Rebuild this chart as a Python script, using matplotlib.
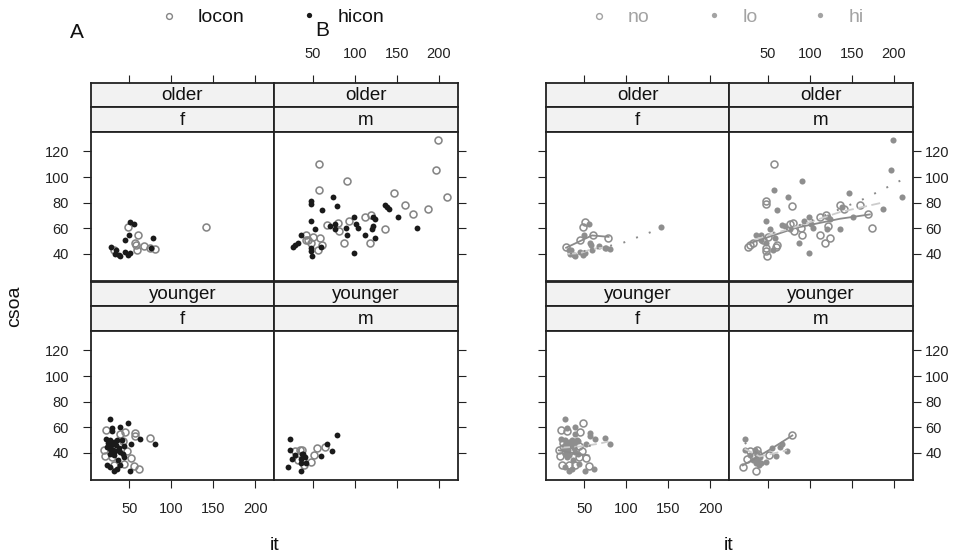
import matplotlib
matplotlib.use("Agg")
import matplotlib.pyplot as plt

plt.rcParams['font.family'] = ['Liberation Sans', 'DejaVu Sans']

# ---------------- data ----------------
# codes: target 'l' = locon, 'h' = hicon ; tint 'n' = no, 'l' = lo, 'h' = hi
older_f_it = [50.4, 56.0, 49.2, 44.4, 78.2, 28.2, 34.5, 37.3, 33.3, 39.3, 45.2, 48.0, 50.4, 76.2,
              48.0, 59.9, 57.1, 58.0, 59.2, 67.9, 74.2, 80.1, 141.7, 32.1]
older_f_csoa = [64.8, 63.0, 54.4, 51.2, 52.3, 45.3, 42.9, 38.8, 39.6, 38.2, 41.4, 38.8, 40.3, 44.2,
                60.9, 54.4, 48.7, 46.8, 42.9, 46.0, 44.8, 44.0, 60.9, 42.9]
older_f_target = "hhhhhhhhhhhhhh" + "llllllllll"
older_f_tint = "nllnnnllhlhllhnnlhllhhhl"

older_m_it = [199.2, 196.4, 209.1, 57.1, 91.3, 57.1, 146.4, 159.5, 168.6, 187.2, 112.7, 119.8, 92.8,
              80.1, 67.5, 81.3, 135.7, 86.9, 117.8, 42.5, 50.4, 59.1, 44.4, 47.6, 61.5, 56.3, 42.5,
              47.6, 47.6, 74.6, 61.5, 78.6, 47.6, 52.4, 36.5, 32.5, 29.4, 26.6, 47.6, 47.6, 49.2,
              60.4, 70.2, 76.2, 76.2, 89.3, 91.3, 98.8, 102.0, 103.9, 99.2, 112.7, 121.8, 123.8,
              121.8, 120.6, 123.8, 135.7, 138.4, 140.4, 151.5, 174.1]
older_m_csoa = [128.9, 105.9, 84.3, 110.4, 96.8, 89.5, 87.7, 78.0, 70.8, 75.2, 68.7, 70.0, 65.6,
                64.3, 62.4, 57.7, 59.6, 48.1, 48.1, 54.4, 53.3, 52.6, 51.2, 48.7, 47.3, 42.9, 50.7,
                81.2, 78.6, 84.3, 73.9, 77.0, 65.6, 59.6, 54.4, 48.1, 46.8, 45.5, 44.8, 42.1, 38.2,
                45.2, 61.6, 63.5, 59.1, 60.4, 54.4, 69.0, 63.0, 60.4, 40.9, 54.4, 68.7, 66.9,
                61.6, 59.1, 52.6, 78.0, 76.8, 74.7, 69.0, 60.4]
older_m_target = "l" * 27 + "h" * 35
older_m_tint = ("hhhnlllnnlnnlnlnllnlnlnlnlh"
                + "nnhln" + "lllnn" + "nnnnn" + "lnlnn" + "hllln" + "lhnln" + "nhnln")

younger_f_it = [26.6, 48.0, 38.5, 29.4, 29.4, 22.6, 27.4, 31.3, 35.4, 41.3, 43.2, 23.5, 26.6, 30.6,
                33.3, 37.3, 39.3, 27.4, 31.3, 43.2, 62.3, 52.0, 80.1, 23.5, 27.4, 31.3, 35.4, 39.3,
                51.2, 42.5, 28.5, 34.0, 36.0, 25.0,
                22.6, 38.5, 45.2, 57.1, 57.1, 75.0, 42.5, 19.4, 21.4, 29.4, 47.3, 52.0, 43.2, 55.1,
                61.1, 31.3, 37.3, 27.4]
younger_f_csoa = [66.3, 63.2, 60.1, 59.3, 56.7, 51.0, 49.7, 48.4, 49.7, 49.7, 45.0, 44.5, 43.2, 42.4,
                  41.3, 44.0, 40.6, 39.3, 38.0, 36.7, 51.0, 46.6, 46.6, 30.2, 28.8, 26.2, 27.6, 30.2,
                  26.2, 39.3, 46.5, 45.8, 34.5, 47.5,
                  57.5, 54.9, 56.2, 55.4, 52.8, 51.8, 48.9, 42.4, 37.2, 36.7, 41.3, 36.2, 31.5, 29.4,
                  27.6, 30.2, 47.1, 45.8]
younger_f_target = "h" * 34 + "l" * 18
younger_f_tint = "lnllnlhlhlnlhlnhlhlnlhlnlhlnlhlhln" + "nlnlhhlnnhnnlnlnhl"

younger_m_it = [23.5, 23.5, 20.6, 25.4, 29.4, 36.5, 38.5, 40.5, 35.7, 42.5, 36.5, 60.4, 67.5, 73.0,
                78.6, 36.9,
                29.4, 34.5, 37.3, 32.5, 39.6, 48.4, 51.6, 55.6, 65.1, 38.5]
younger_m_csoa = [51.0, 42.4, 28.8, 35.4, 38.0, 35.4, 39.3, 36.7, 32.0, 32.0, 26.2, 37.2, 46.6, 41.3,
                  53.8, 38.8,
                  41.3, 42.4, 42.4, 34.1, 30.2, 32.7, 38.5, 43.7, 44.5, 35.4]
younger_m_target = "h" * 16 + "l" * 10
younger_m_tint = "lhnnlhnllhnllhnl" + "nlnhllnlhl"

# smooth curves of panel B (it, csoa vertices)
smooth_older_f = {"n": ([28.2, 45.0, 59.1, 78.9], [44.8, 50.0, 54.4, 53.3]),
                  "l": ([30.0, 45.0, 60.0, 76.0], [40.0, 40.5, 44.0, 45.0]),
                  "h": ([33.0, 67.0, 94.0, 128.9, 141.7], [40.0, 44.5, 48.1, 56.9, 60.9])}
smooth_older_m = {"n": ([30.6, 84.1, 135.7, 171.4], [48.7, 60.4, 67.4, 70.8]),
                  "l": ([34.5, 84.1, 135.7, 185.3], [51.2, 61.2, 72.6, 79.9]),
                  "h": ([40.5, 80.0, 123.8, 162.7, 185.3, 207.9], [53.8, 60.5, 71.6, 82.5, 89.8, 97.3])}
smooth_younger_f = {"n": ([19.4, 35.0, 55.0], [42.0, 40.0, 38.0]),
                    "l": ([22.0, 45.0, 67.0, 78.9], [44.0, 45.0, 47.1, 48.9]),
                    "h": ([23.0, 40.0, 62.0], [45.0, 44.0, 46.0])}
smooth_younger_m = {"n": ([20.6, 34.5, 56.3, 79.4], [30.2, 35.4, 44.0, 53.6]),
                    "l": ([22.6, 40.5, 60.0, 73.0], [43.2, 37.2, 40.0, 42.0]),
                    "h": ([23.0, 40.0, 67.0], [48.0, 38.0, 45.0])}

panels = {("older", "f"): (older_f_it, older_f_csoa, older_f_target, older_f_tint, smooth_older_f),
          ("older", "m"): (older_m_it, older_m_csoa, older_m_target, older_m_tint, smooth_older_m),
          ("younger", "f"): (younger_f_it, younger_f_csoa, younger_f_target, younger_f_tint, smooth_younger_f),
          ("younger", "m"): (younger_m_it, younger_m_csoa, younger_m_target, younger_m_tint, smooth_younger_m)}

agegp_levels = ["older", "younger"]
sex_levels = ["f", "m"]
x_ticks = [50, 100, 150, 200]
y_ticks = [40, 60, 80, 100, 120]

# ---------------- figure ----------------
W, H = 966, 557
fig = plt.figure(figsize=(W / 100, H / 100), dpi=100)

def px_axes(x0, y0, x1, y1):
    return fig.add_axes([x0 / W, 1 - y1 / H, (x1 - x0) / W, (y1 - y0) / H])

def fx(x):
    return x / W

def fy(y):
    return 1 - y / H

XLIM = (4.2, 222.6)
YLIM = (18.8, 135.2)
EDGE = "#222222"
STRIP = "#f2f2f2"
GRAY_A = "#858585"
BLACK = "#1a1a1a"
GRAY_B = "#8e8e8e"
TL = 5.8   # tick length (pt)
TP = 10.0  # tick pad (pt)
TFS = 10.5

def style_spines(ax):
    for s in ax.spines.values():
        s.set_color(EDGE)
        s.set_linewidth(1.3)

def draw_part(cols, part):
    for r, age in enumerate(agegp_levels):
        for c, sex in enumerate(sex_levels):
            cx0, cx1 = cols[c]
            off = 199 * r
            # strips
            s1 = px_axes(cx0, 83 + off, cx1, 107 + off)
            s2 = px_axes(cx0, 107 + off, cx1, 132 + off)
            for s, lab in ((s1, age), (s2, sex)):
                s.set_facecolor(STRIP)
                s.set_xlim(*XLIM)
                s.set_ylim(0, 1)
                s.set_yticks([])
                s.set_xticks([])
                style_spines(s)
                s.text(0.5, 0.47, lab, transform=s.transAxes, ha="center", va="center",
                       fontsize=13.5, color="#111111")
            if r == 0:
                s1.set_xticks(x_ticks)
                s1.xaxis.set_ticks_position("top")
                s1.tick_params(axis="x", direction="out", length=TL, width=0.8, color=EDGE,
                               pad=TP, labelsize=TFS, labelcolor="#222222",
                               labeltop=(c == 1), labelbottom=False, top=True, bottom=False)
            ax = px_axes(cx0, 132 + off, cx1, 281 + off)
            style_spines(ax)
            ax.set_xlim(*XLIM)
            ax.set_ylim(*YLIM)
            ax.set_yticks(y_ticks)
            left_lab = (part == "A")
            ax.tick_params(axis="y", direction="out", length=TL, width=0.8, color=EDGE,
                           pad=(TP if left_lab else 3.0),
                           labelsize=TFS, labelcolor="#222222",
                           left=(c == 0), labelleft=(c == 0 and left_lab),
                           right=(c == 1), labelright=(c == 1 and not left_lab))
            if r == 1:
                ax.set_xticks(x_ticks)
                ax.tick_params(axis="x", direction="out", length=TL, width=0.8, color=EDGE,
                               pad=TP, labelsize=TFS, labelcolor="#222222",
                               bottom=True, labelbottom=(c == 0), top=False)
            else:
                ax.set_xticks([])

            it, csoa, target, tint, smooth = panels[(age, sex)]
            if part == "A":
                for code, filled in (("l", False), ("h", True)):
                    xs = [x for x, t in zip(it, target) if t == code]
                    ys = [y for y, t in zip(csoa, target) if t == code]
                    if filled:
                        ax.plot(xs, ys, "o", ms=4.2, mfc=BLACK, mec=BLACK, mew=0, zorder=3)
                    else:
                        ax.plot(xs, ys, "o", ms=5.0, mfc="none", mec=GRAY_A, mew=1.15, zorder=3)
            else:
                for code in ("n", "l", "h"):
                    xs = [x for x, t in zip(it, tint) if t == code]
                    ys = [y for y, t in zip(csoa, tint) if t == code]
                    if code == "n":
                        ax.plot(xs, ys, "o", ms=5.0, mfc="none", mec=GRAY_B, mew=1.15, zorder=3)
                    else:
                        ax.plot(xs, ys, "o", ms=4.4, mfc=GRAY_B, mec=GRAY_B, mew=0, zorder=3)
                lx, ly = smooth["n"]
                ax.plot(lx, ly, "-", color="#8a8a8a", lw=1.3, zorder=4)
                lx, ly = smooth["l"]
                ax.plot(lx, ly, color="#cccccc", lw=1.3, ls=(0, (5, 2.5)), zorder=4)
                lx, ly = smooth["h"]
                ax.plot(lx, ly, color="#8a8a8a", lw=1.4, ls=(0, (1, 6)), zorder=4)

cols_A = [(91, 274), (274, 458)]
cols_B = [(546, 729), (729, 913)]
draw_part(cols_A, "A")
draw_part(cols_B, "B")

# axis labels
fig.text(fx(15), fy(306), "csoa", rotation=90, ha="center", va="center", fontsize=14, color="#111111")
fig.text(fx(275), fy(546), "it", ha="center", va="center", fontsize=14, color="#111111")
fig.text(fx(729), fy(546), "it", ha="center", va="center", fontsize=14, color="#111111")

# panel letters
fig.text(fx(77), fy(32), "A", ha="center", va="center", fontsize=15, color="#111111")
fig.text(fx(322), fy(30), "B", ha="center", va="center", fontsize=15, color="#111111")

# legends (keys)
leg = fig.add_axes([0, 0, 1, 1], facecolor="none")
leg.set_xlim(0, W)
leg.set_ylim(H, 0)
leg.axis("off")
leg.plot([169], [16], "o", ms=4.2, mfc="none", mec=GRAY_A, mew=1.0)
leg.text(198, 17, "locon", ha="left", va="center", fontsize=14, color="#111111")
leg.plot([309], [15], "o", ms=3.8, mfc=BLACK, mec=BLACK, mew=0)
leg.text(338, 17, "hicon", ha="left", va="center", fontsize=14, color="#111111")
KEYB = "#a3a3a3"
leg.plot([599], [16], "o", ms=4.2, mfc="none", mec=KEYB, mew=1.0)
leg.text(628, 17, "no", ha="left", va="center", fontsize=14, color=KEYB)
leg.plot([714], [15], "o", ms=3.8, mfc=KEYB, mec=KEYB, mew=0)
leg.text(743, 17, "lo", ha="left", va="center", fontsize=14, color=KEYB)
leg.plot([820], [15], "o", ms=3.8, mfc=KEYB, mec=KEYB, mew=0)
leg.text(849, 17, "hi", ha="left", va="center", fontsize=14, color=KEYB)

fig.savefig("out.png", dpi=100)
